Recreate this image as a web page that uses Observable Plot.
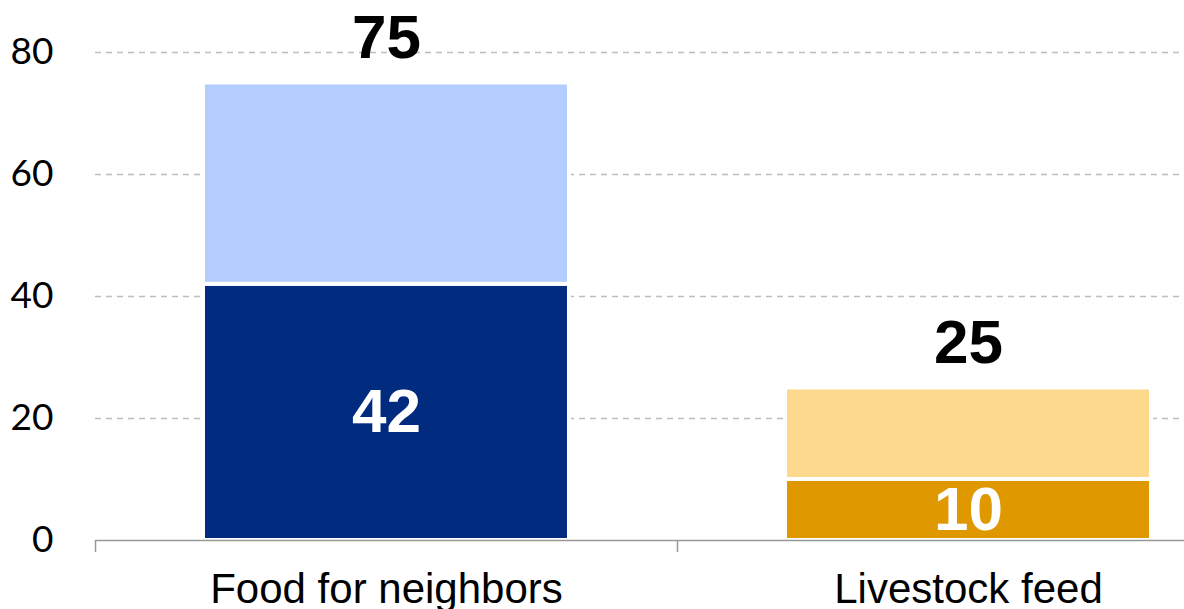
<!DOCTYPE html>
<html>
<head>
<meta charset="utf-8">
<script src="https://cdn.jsdelivr.net/npm/d3@7"></script>
<script src="https://cdn.jsdelivr.net/npm/@observablehq/plot@0.6"></script>
<style>
  html, body { margin: 0; padding: 0; background: #fff; }
  #chart svg { display: block; }
</style>
</head>
<body>
<div id="chart"></div>
<script>
// ---- data ----
const categories = ["Food for neighbors", "Livestock feed"];
const baseValues = [42, 10];     // darker lower segment
const totalValues = [75, 25];    // bar totals
const yTicks = [0, 20, 40, 60, 80];
const darkColors = ["#002b7f", "#e09800"];
const lightColors = ["#b3cdff", "#fdd98e"];

// table for the library
const rows = [];
categories.forEach((c, i) => {
  rows.push({cat: c, part: "base", value: baseValues[i], color: darkColors[i]});
  rows.push({cat: c, part: "rest", value: totalValues[i] - baseValues[i], color: lightColors[i]});
});
const totals = categories.map((c, i) => ({cat: c, total: totalValues[i], base: baseValues[i]}));

const W = 1184, H = 609;
const xRange = [95, 1259];
const step = (xRange[1] - xRange[0]) / categories.length;

const chart = Plot.plot({
  width: W,
  height: H,
  marginLeft: 95,
  marginRight: 0,
  marginTop: 52,
  marginBottom: 69,
  style: {background: "#fff", overflow: "hidden"},
  x: {domain: categories, range: xRange, paddingInner: 0.371, paddingOuter: 0.1855, label: null},
  y: {domain: [0, 80], label: null},
  marks: [
    Plot.ruleY(yTicks.filter(d => d > 0), {stroke: "#bdbdbd", strokeWidth: 1.5, strokeDasharray: "6,5"}),
    Plot.barY(rows, Plot.stackY({x: "cat", y: "value", fill: "color", stroke: "#fff", strokeWidth: 4})),
    Plot.ruleY([0], {stroke: "#999", strokeWidth: 1.5}),
    Plot.axisY({ticks: yTicks, tickSize: 0, tickPadding: 42, fontSize: 37, fontFamily: "Lato, 'Open Sans', sans-serif", label: null}),
    Plot.axisX({tickSize: 12, text: null, stroke: "#999", strokeWidth: 1.5, dx: -step / 2, label: null}),
    Plot.axisX({tickSize: 0, tickPadding: 33, fontSize: 42, fontFamily: "'Liberation Sans', Arial, sans-serif", label: null}),
    Plot.text(totals, {x: "cat", y: "total", text: d => String(d.total), dy: -45, lineAnchor: "middle",
      fontSize: 62, fontWeight: "bold", fontFamily: "'Liberation Sans', Arial, sans-serif", fill: "#000"}),
    Plot.text(totals, {x: "cat", y: d => d.base / 2, text: d => String(d.base), lineAnchor: "middle",
      fontSize: 62, fontWeight: "bold", fontFamily: "'Liberation Sans', Arial, sans-serif", fill: "#fff"})
  ]
});
document.getElementById("chart").appendChild(chart);
</script>
</body>
</html>
